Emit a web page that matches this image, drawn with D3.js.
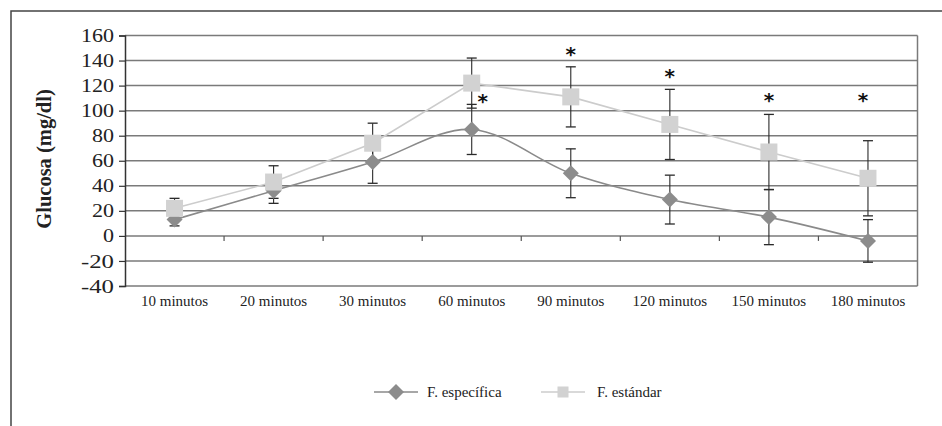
<html>
<head>
<script src="https://d3js.org/d3.v7.min.js"></script>
<style>
	body {margin: 0; background: #fff;}
	text {font-family: "Liberation Serif", "Times New Roman", serif;}
</style>
</head>
<body>
<div id="chart"></div>
<script>
// values
var categories = ["10 minutos", "20 minutos", "30 minutos", "60 minutos", "90 minutos", "120 minutos", "150 minutos", "180 minutos"];
var especifica = [13, 36, 59, 85, 50, 29, 15, -4];
var especificaErr = [5, 10, 17, 20, 19.5, 19.5, 22, 17];
var estandar = [22, 43, 74, 122, 111, 89, 67, 46];
var estandarErr = [8, 13, 16, 20, 24, 28, 30, 30];
var starIndex = [3, 4, 5, 6, 7];
var starValue = [109, 147, 129, 110, 110];
var yTicks = [-40, -20, 0, 20, 40, 60, 80, 100, 120, 140, 160];

var width = 942, height = 426;
var plotLeft = 125, plotRight = 917.5, plotTop = 35.5, plotBottom = 286;

var svg = d3.select("#chart").append("svg")
	.attr("width", width)
	.attr("height", height);

// outer frame (only top and left edges show)
svg.append("path")
	.attr("d", "M11,426V11H942")
	.style("fill", "none")
	.style("stroke", "#444")
	.style("stroke-width", 1.5);

var xScale = d3.scaleBand().domain(categories).range([plotLeft, plotRight]);
var yScale = d3.scaleLinear().domain([-40, 160]).range([plotBottom, plotTop]);
var cx = function(i) { return xScale(categories[i]) + xScale.bandwidth() / 2; };

// grid lines
svg.selectAll(".grid")
	.data(yTicks)
	.enter()
	.append("line")
	.attr("x1", plotLeft)
	.attr("x2", plotRight)
	.attr("y1", function(d) { return yScale(d); })
	.attr("y2", function(d) { return yScale(d); })
	.style("stroke", "#7a7a7a")
	.style("stroke-width", 1.5);

// plot border right
svg.append("line")
	.attr("x1", plotRight).attr("x2", plotRight)
	.attr("y1", plotTop).attr("y2", plotBottom)
	.style("stroke", "#7a7a7a")
	.style("stroke-width", 1.5);

// y axis (plain hyphen for negatives, like the original)
var yAxis = svg.append("g")
	.attr("transform", "translate(" + plotLeft + ",0)")
	.call(d3.axisLeft(yScale).tickValues(yTicks).tickSize(6).tickPadding(5)
		.tickFormat(function(d) { return String(d); }));
yAxis.select(".domain").style("stroke", "#333").style("stroke-width", 1.5);
yAxis.selectAll(".tick line").style("stroke", "#333").style("stroke-width", 1.2);
yAxis.selectAll(".tick text")
	.style("font-family", "Liberation Serif")
	.style("font-size", "19px")
	.style("fill", "#222")
	.attr("textLength", function(d) { return String(d).length * 11; })
	.attr("lengthAdjust", "spacingAndGlyphs");

// category ticks on the zero line
svg.selectAll(".xtick")
	.data(d3.range(1, categories.length))
	.enter()
	.append("line")
	.attr("x1", function(i) { return xScale(categories[i]); })
	.attr("x2", function(i) { return xScale(categories[i]); })
	.attr("y1", yScale(0))
	.attr("y2", yScale(0) + 5)
	.style("stroke", "#555")
	.style("stroke-width", 1.2);

// category labels
svg.selectAll(".xlabel")
	.data(categories)
	.enter()
	.append("text")
	.attr("x", function(d, i) { return cx(i); })
	.attr("y", 306)
	.attr("text-anchor", "middle")
	.style("font-size", "15px")
	.style("fill", "#222")
	.text(function(d) { return d; });

// y axis title
svg.append("text")
	.attr("transform", "translate(51,159) rotate(-90)")
	.attr("text-anchor", "middle")
	.style("font-size", "20.5px")
	.style("font-weight", "bold")
	.style("fill", "#222")
	.text("Glucosa (mg/dl)");

// lines
var smooth = d3.line()
	.x(function(d, i) { return cx(i); })
	.y(function(d) { return yScale(d); })
	.curve(d3.curveCatmullRom.alpha(0));
var straight = d3.line()
	.x(function(d, i) { return cx(i); })
	.y(function(d) { return yScale(d); });

svg.append("path")
	.attr("d", straight(estandar))
	.style("fill", "none")
	.style("stroke", "#cccccc")
	.style("stroke-width", 1.6);

svg.append("path")
	.attr("d", smooth(especifica))
	.style("fill", "none")
	.style("stroke", "#8a8a8a")
	.style("stroke-width", 1.6);

// error bars
function errorBars(values, errs) {
	values.forEach(function(v, i) {
		var x = cx(i), y0 = yScale(v - errs[i]), y1 = yScale(v + errs[i]);
		svg.append("line")
			.attr("x1", x).attr("x2", x).attr("y1", y0).attr("y2", y1)
			.style("stroke", "#2a2a2a").style("stroke-width", 1.1);
		[y0, y1].forEach(function(y) {
			svg.append("line")
				.attr("x1", x - 5).attr("x2", x + 5).attr("y1", y).attr("y2", y)
				.style("stroke", "#2a2a2a").style("stroke-width", 1.3);
		});
	});
}
errorBars(especifica, especificaErr);
errorBars(estandar, estandarErr);

// markers
especifica.forEach(function(v, i) {
	svg.append("path")
		.attr("d", "M0,-8L8,0L0,8L-8,0Z")
		.attr("transform", "translate(" + cx(i) + "," + yScale(v) + ")")
		.style("fill", "#8c8c8c");
});
estandar.forEach(function(v, i) {
	svg.append("rect")
		.attr("x", cx(i) - 8.5)
		.attr("y", yScale(v) - 8.5)
		.attr("width", 17)
		.attr("height", 17)
		.style("fill", "#d2d2d2");
});

// significance asterisks
starIndex.forEach(function(idx, k) {
	svg.append("text")
		.attr("x", cx(idx) + (idx === 3 ? 11 : (idx === 7 ? -5 : 0)))
		.attr("y", yScale(starValue[k]) + 9)
		.attr("text-anchor", "middle")
		.style("font-family", "DejaVu Sans")
		.style("font-size", "20px")
		.style("font-weight", "bold")
		.style("fill", "#111")
		.text("*");
});

// legend
var legend = svg.append("g").attr("transform", "translate(0,392)");
legend.append("line")
	.attr("x1", 374).attr("x2", 418).attr("y1", 0).attr("y2", 0)
	.style("stroke", "#8a8a8a").style("stroke-width", 1.6);
legend.append("path")
	.attr("d", "M396,-8L404,0L396,8L388,0Z")
	.style("fill", "#8c8c8c");
legend.append("text")
	.attr("x", 427).attr("y", 5)
	.style("font-size", "15px")
	.style("fill", "#222")
	.text("F. específica");
legend.append("line")
	.attr("x1", 541).attr("x2", 585).attr("y1", 0).attr("y2", 0)
	.style("stroke", "#cccccc").style("stroke-width", 1.6);
legend.append("rect")
	.attr("x", 557.5).attr("y", -5.5).attr("width", 11).attr("height", 11)
	.style("fill", "#d2d2d2");
legend.append("text")
	.attr("x", 597).attr("y", 5)
	.style("font-size", "15px")
	.style("fill", "#222")
	.text("F. estándar");
</script>
</body>
</html>
